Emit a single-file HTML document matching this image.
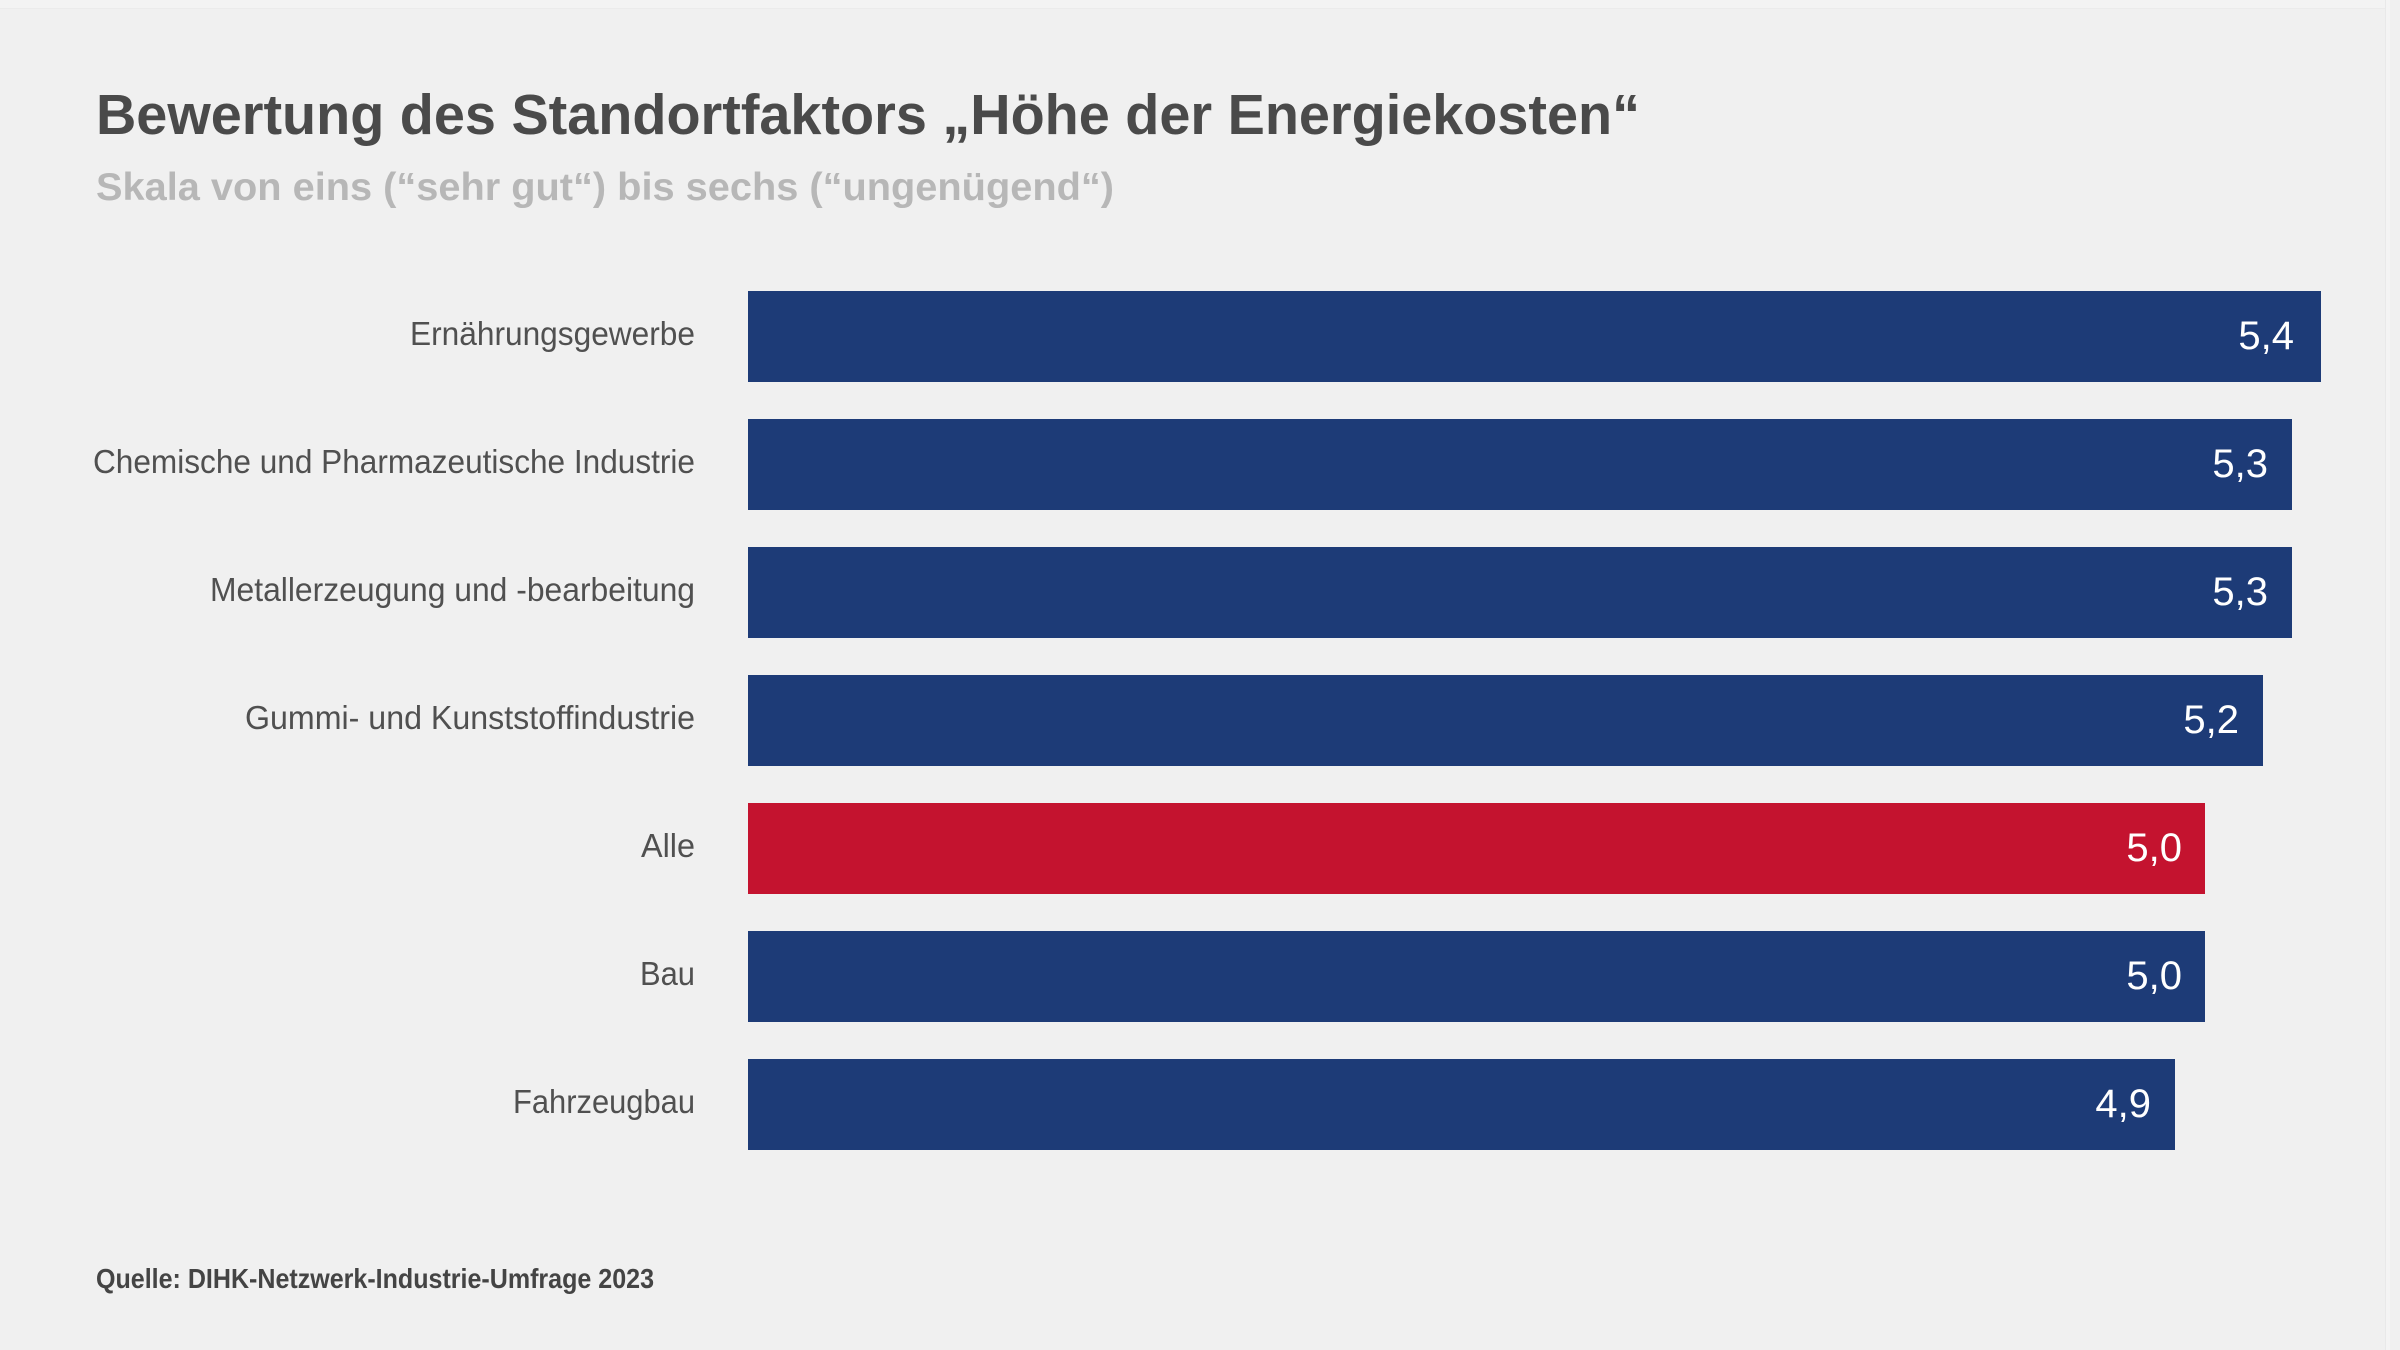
<!DOCTYPE html>
<html lang="de">
<head>
<meta charset="utf-8">
<title>Bewertung des Standortfaktors „Höhe der Energiekosten“</title>
<style>
  html, body { margin: 0; padding: 0; background: #f0f0f0; }
  body { width: 2400px; height: 1350px; overflow: hidden; }
  svg { display: block; }
  text { font-family: "Liberation Sans", "DejaVu Sans", sans-serif; }
</style>
</head>
<body>
<svg width="2400" height="1350" viewBox="0 0 2400 1350" xmlns="http://www.w3.org/2000/svg">
  <rect x="0" y="0" width="2400" height="1350" fill="#f0f0f0"/>
  <!-- faint frame lines -->
  <rect x="0" y="0" width="2386" height="8" fill="#f3f3f3"/>
  <rect x="0" y="8" width="2386" height="1" fill="#ebebeb"/>
  <rect x="2385" y="0" width="1" height="1350" fill="#e9e9e9"/>
  <rect x="2386" y="0" width="4" height="1350" fill="#f4f4f4"/>

  <!-- Title -->
  <text x="96" y="134" font-size="57" font-weight="bold" fill="#4a4a4a" textLength="1544" lengthAdjust="spacingAndGlyphs">Bewertung des Standortfaktors „Höhe der Energiekosten“</text>
  <!-- Subtitle -->
  <text x="96" y="200" font-size="39" font-weight="bold" fill="#b7b7b7" textLength="1018" lengthAdjust="spacingAndGlyphs">Skala von eins (“sehr gut“) bis sechs (“ungenügend“)</text>

  <!-- Bars -->
  <rect x="748" y="291" width="1573" height="91" fill="#1d3b77"/>
  <rect x="748" y="419" width="1544" height="91" fill="#1d3b77"/>
  <rect x="748" y="547" width="1544" height="91" fill="#1d3b77"/>
  <rect x="748" y="675" width="1515" height="91" fill="#1d3b77"/>
  <rect x="748" y="803" width="1457" height="91" fill="#c4132f"/>
  <rect x="748" y="931" width="1457" height="91" fill="#1d3b77"/>
  <rect x="748" y="1059" width="1427" height="91" fill="#1d3b77"/>

  <!-- Category labels -->
  <g font-size="33" fill="#505050" text-anchor="end">
    <text x="695" y="345" textLength="285" lengthAdjust="spacingAndGlyphs">Ernährungsgewerbe</text>
    <text x="695" y="473" textLength="602" lengthAdjust="spacingAndGlyphs">Chemische und Pharmazeutische Industrie</text>
    <text x="695" y="601" textLength="485" lengthAdjust="spacingAndGlyphs">Metallerzeugung und -bearbeitung</text>
    <text x="695" y="729" textLength="450" lengthAdjust="spacingAndGlyphs">Gummi- und Kunststoffindustrie</text>
    <text x="695" y="857" textLength="54" lengthAdjust="spacingAndGlyphs">Alle</text>
    <text x="695" y="985" textLength="55" lengthAdjust="spacingAndGlyphs">Bau</text>
    <text x="695" y="1113" textLength="182" lengthAdjust="spacingAndGlyphs">Fahrzeugbau</text>
  </g>

  <!-- Value labels -->
  <g font-size="40" fill="#ffffff" text-anchor="end">
    <text x="2294" y="349">5,4</text>
    <text x="2268" y="477">5,3</text>
    <text x="2268" y="605">5,3</text>
    <text x="2239" y="733">5,2</text>
    <text x="2182" y="861">5,0</text>
    <text x="2182" y="989">5,0</text>
    <text x="2151" y="1117">4,9</text>
  </g>

  <!-- Source -->
  <text x="96" y="1288" font-size="28" font-weight="bold" fill="#444444" textLength="558" lengthAdjust="spacingAndGlyphs">Quelle: DIHK-Netzwerk-Industrie-Umfrage 2023</text>
</svg>
</body>
</html>
